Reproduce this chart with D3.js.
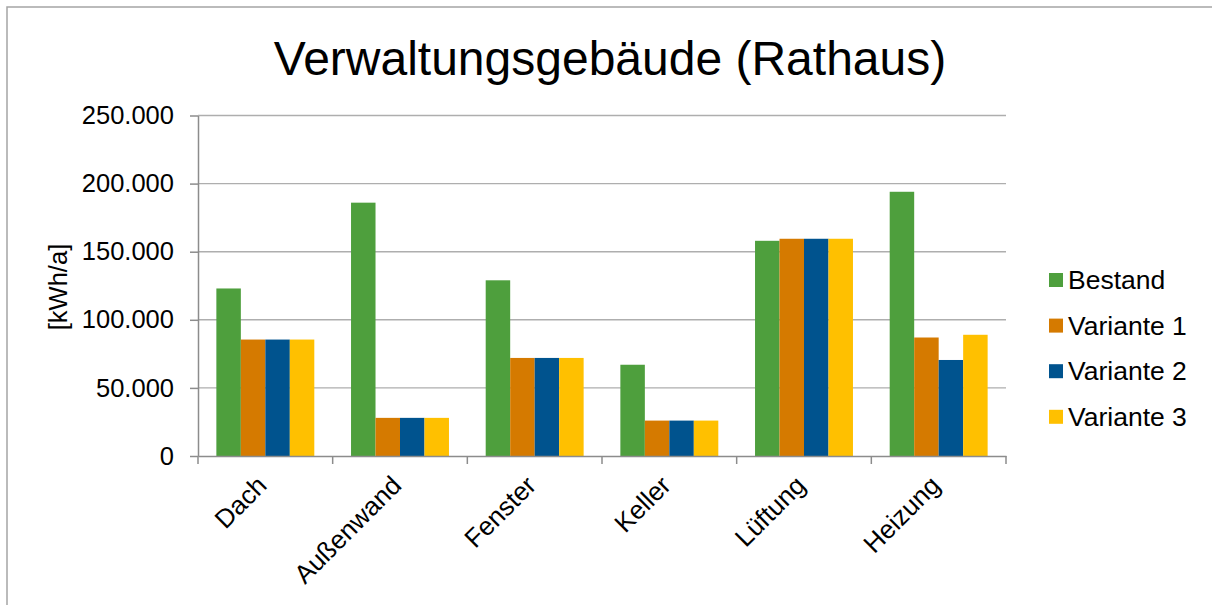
<!DOCTYPE html>
<html>
<head>
<meta charset="utf-8">
<script src="https://cdn.jsdelivr.net/npm/d3@7"></script>
<style>
  html, body { margin: 0; padding: 0; background: #fff; }
  svg { display: block; font-family: "Liberation Sans", Arial, sans-serif; }
</style>
</head>
<body>
<svg id="chart" width="1212" height="605"></svg>
<script>
// Jährlicher Energiebedarf je Bauteil [kWh/a]
const categories = ["Dach", "Außenwand", "Fenster", "Keller", "Lüftung", "Heizung"];
const seriesNames = ["Bestand", "Variante 1", "Variante 2", "Variante 3"];
const bestand   = [123000, 186000, 129000, 67000, 158000, 194000];
const variante1 = [85500, 28000, 72000, 26000, 159500, 87000];
const variante2 = [85500, 28000, 72000, 26000, 159500, 70500];
const variante3 = [85500, 28000, 72000, 26000, 159500, 89000];
const yTicks = [0, 50000, 100000, 150000, 200000, 250000];
const colors = ["#4E9F3D", "#D57A00", "#00538E", "#FFC000"];

const seriesValues = [bestand, variante1, variante2, variante3];

const svg = d3.select("#chart");
const plot = { left: 198, right: 1006, top: 115.5, bottom: 456 };

const de = d3.formatLocale({ decimal: ",", thousands: ".", grouping: [3], currency: ["", " €"] });
const fmt = de.format(",.0f");

// chart frame
svg.append("path")
  .attr("d", "M7,620 L7,7 L1220,7")
  .attr("fill", "none").attr("stroke", "#A5A5A5").attr("stroke-width", 1.5);

// title
svg.append("text")
  .attr("x", 610).attr("y", 75)
  .attr("text-anchor", "middle")
  .attr("font-size", 48)
  .attr("fill", "#000")
  .text("Verwaltungsgebäude (Rathaus)");

const x0 = d3.scaleBand().domain(categories).range([plot.left, plot.right]).paddingInner(0).paddingOuter(0);
// 150 % gap width: group occupies 4 of 5.5 bar widths
const groupPad = 1.5 / 5.5;
const x1 = d3.scaleBand().domain(seriesNames).range([0, x0.bandwidth() * (1 - groupPad)]);
const y = d3.scaleLinear().domain([0, 250000]).range([plot.bottom, plot.top]);

// gridlines
svg.append("g")
  .selectAll("line")
  .data(yTicks.filter(d => d > 0))
  .join("line")
  .attr("x1", plot.left).attr("x2", plot.right)
  .attr("y1", d => y(d)).attr("y2", d => y(d))
  .attr("stroke", "#AEAEAE").attr("stroke-width", 1.4);

// bars
const groups = svg.append("g")
  .selectAll("g")
  .data(categories)
  .join("g")
  .attr("transform", c => `translate(${x0(c) + x0.bandwidth() * groupPad / 2},0)`);

groups.selectAll("rect")
  .data((c, i) => seriesNames.map((s, k) => ({ s, k, v: seriesValues[k][i] })))
  .join("rect")
  .attr("x", d => x1(d.s))
  .attr("width", x1.bandwidth())
  .attr("y", d => y(d.v))
  .attr("height", d => y(0) - y(d.v))
  .attr("fill", d => colors[d.k]);

// y axis
const yAxis = d3.axisLeft(y).tickValues(yTicks).tickSize(8).tickSizeOuter(0).tickPadding(16).tickFormat(fmt);
const gy = svg.append("g").attr("transform", `translate(${plot.left},0)`).call(yAxis);
gy.select(".domain").attr("stroke", "#8C8C8C").attr("stroke-width", 1.5);
gy.selectAll(".tick line").attr("stroke", "#8C8C8C").attr("stroke-width", 1.5);
gy.selectAll(".tick text")
  .attr("font-size", 25.5).attr("fill", "#000")
  .attr("font-family", "Liberation Sans, Arial, sans-serif");

// x axis
const xAxis = d3.axisBottom(x0).tickSize(0).tickFormat("");
const gx = svg.append("g").attr("transform", `translate(0,${plot.bottom})`).call(xAxis);
gx.select(".domain").attr("stroke", "#8C8C8C").attr("stroke-width", 1.5);
gx.selectAll(".tick").remove();

// category separators below axis
const boundaries = categories.map(c => x0(c)).concat([plot.right]);
svg.append("g").selectAll("line")
  .data(boundaries)
  .join("line")
  .attr("x1", d => d).attr("x2", d => d)
  .attr("y1", plot.bottom).attr("y2", plot.bottom + 8)
  .attr("stroke", "#8C8C8C").attr("stroke-width", 1.5);

// category labels, rotated
svg.append("g").selectAll("text")
  .data(categories)
  .join("text")
  .attr("text-anchor", "end")
  .attr("font-size", 26)
  .attr("fill", "#000")
  .attr("transform", c => `translate(${x0(c) + x0.bandwidth() / 2 + 3},${plot.bottom + 31}) rotate(-45)`)
  .text(c => c);

// y axis title
svg.append("text")
  .attr("transform", "translate(58,287) rotate(-90)")
  .attr("text-anchor", "middle")
  .attr("dominant-baseline", "central")
  .attr("font-size", 25.5)
  .attr("fill", "#000")
  .text("[kWh/a]");

// legend
const legend = svg.append("g").selectAll("g")
  .data(seriesNames)
  .join("g")
  .attr("transform", (d, i) => `translate(1049,${280 + i * 45.6})`);
legend.append("rect")
  .attr("x", 0).attr("y", -7).attr("width", 14).attr("height", 14)
  .attr("fill", (d, i) => colors[i]);
legend.append("text")
  .attr("x", 19).attr("y", 0)
  .attr("dominant-baseline", "central")
  .attr("font-size", 26.5)
  .attr("fill", "#000")
  .text(d => d);
</script>
</body>
</html>
